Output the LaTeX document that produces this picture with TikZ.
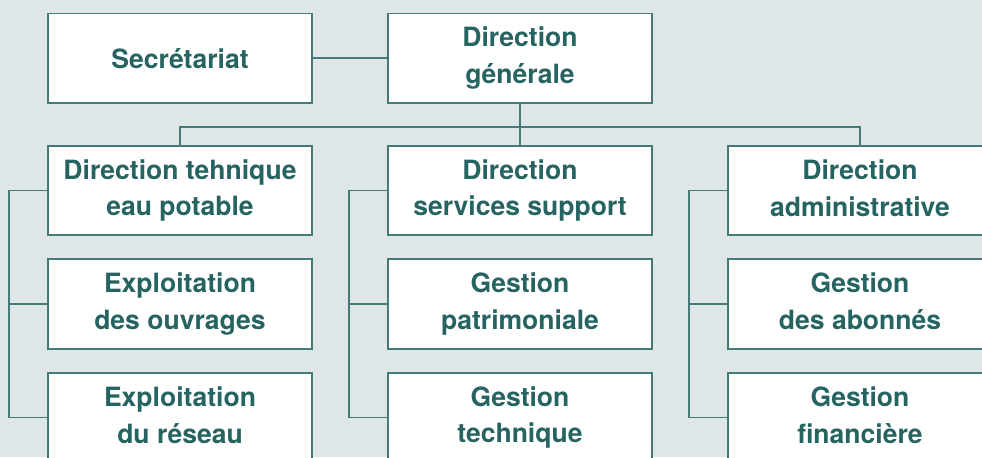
\documentclass[tikz,border=0pt]{standalone}
\usepackage{fontspec}
\setmainfont{TeX Gyre Heros}
\definecolor{bgcol}{RGB}{223,230,231}
\definecolor{linecol}{RGB}{70,122,121}
\definecolor{textcol}{RGB}{38,100,98}
\newcommand\topstrut{\rule{0pt}{14.7pt}}
\newcommand\botstrut{\rule[-3pt]{0pt}{3pt}}
\tikzset{
  unit/.style={draw=linecol, fill=white, line width=0.9pt, minimum width=5.28cm,
    minimum height=1.79cm, inner sep=0pt, align=center, text=textcol,
    font=\fontsize{15.1}{21}\selectfont\bfseries,
    execute at begin node=\topstrut, execute at end node=\botstrut},
  link/.style={draw=linecol, line width=0.9pt}
}
\begin{document}
\begin{tikzpicture}[x=0.02cm,y=-0.02cm]
\fill[bgcol] (0,0) rectangle (982,457);
\useasboundingbox (0,0) rectangle (982,457);
\node[unit] (secr) at (180,58.25) {Secrétariat};
\node[unit] (dg) at (520,58.25) {Direction\\générale};
\node[unit] (dtep) at (180,190.5) {Direction tehnique\\eau potable};
\node[unit] (expo) at (180,304) {Exploitation\\des ouvrages};
\node[unit] (expr) at (180,417.5) {Exploitation\\du réseau};
\node[unit] (dss) at (520,190.5) {Direction\\services support};
\node[unit] (gpat) at (520,304) {Gestion\\patrimoniale};
\node[unit] (gtec) at (520,417.5) {Gestion\\technique};
\node[unit] (dadm) at (860,190.5) {Direction\\administrative};
\node[unit] (gabo) at (860,304) {Gestion\\des abonnés};
\node[unit] (gfin) at (860,417.5) {Gestion\\financière};
\coordinate (bus) at (520,127);
\draw[link] (secr) -- (dg);
\draw[link] (dg) -- (dss);
\draw[link] (dtep.north) |- (bus) -| (dadm.north);
\draw[link] (dtep.west) -- ++(-38.5,0) |- (expr.west);
\draw[link] (expo.west) -- ++(-38.5,0);
\draw[link] (dss.west) -- ++(-38.5,0) |- (gtec.west);
\draw[link] (gpat.west) -- ++(-38.5,0);
\draw[link] (dadm.west) -- ++(-38.5,0) |- (gfin.west);
\draw[link] (gabo.west) -- ++(-38.5,0);
\end{tikzpicture}
\end{document}
